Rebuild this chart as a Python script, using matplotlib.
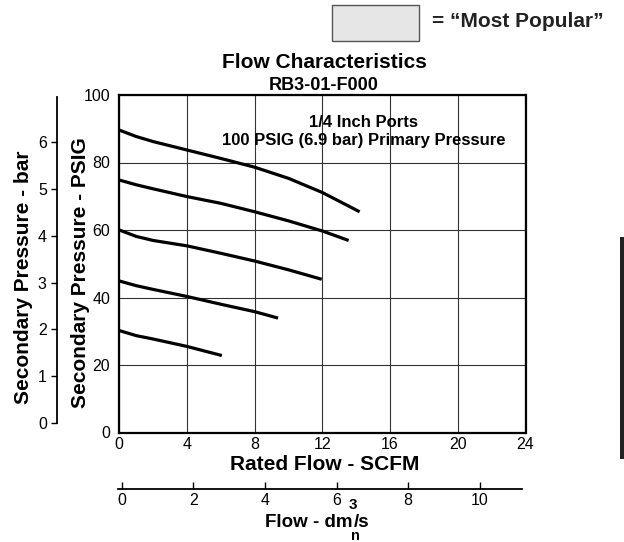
import matplotlib
matplotlib.use("Agg")
import matplotlib.pyplot as plt
from matplotlib.patches import Rectangle

plt.rcParams['font.family'] = ['Liberation Sans', 'DejaVu Sans']

# ---- data ----
scfm_1 = [0, 1, 2, 4, 6, 8, 10, 12, 14.2]
psig_1 = [89.6, 87.7, 86.2, 83.7, 81.2, 78.6, 75.3, 71.1, 65.4]
scfm_2 = [0, 1, 2, 4, 6, 8, 10, 12, 13.55]
psig_2 = [74.8, 73.4, 72.2, 69.9, 67.9, 65.4, 62.7, 59.7, 56.9]
scfm_3 = [0, 1, 2, 4, 6, 8, 10, 11.96]
psig_3 = [60.0, 58.1, 56.9, 55.3, 53.1, 50.8, 48.2, 45.4]
scfm_4 = [0, 1, 2, 4, 6, 8, 9.38]
psig_4 = [44.9, 43.5, 42.4, 40.3, 38.0, 35.8, 33.9]
scfm_5 = [0, 1, 2, 4, 6.06]
psig_5 = [30.2, 28.7, 27.7, 25.5, 22.8]
curves = [(scfm_1, psig_1), (scfm_2, psig_2), (scfm_3, psig_3),
          (scfm_4, psig_4), (scfm_5, psig_5)]

scfm_ticks = [0, 4, 8, 12, 16, 20, 24]
psig_ticks = [0, 20, 40, 60, 80, 100]
bar_ticks = [0, 1, 2, 3, 4, 5, 6]
dm3_ticks = [0, 2, 4, 6, 8, 10]

W, H = 624, 542
fig = plt.figure(figsize=(W / 100, H / 100), dpi=100)


def fx(px):
    return px / W


def fy(py):
    return (H - py) / H


# ---- main axes ----
ax = fig.add_axes([fx(119.3), fy(432.5), fx(525.5) - fx(119.3), fy(95) - fy(432.5)])
for xs, ys in curves:
    ax.plot(xs, ys, color='black', lw=2.3, solid_capstyle='butt', solid_joinstyle='round')
ax.set_xlim(0, 24)
ax.set_ylim(0, 100)
ax.set_xticks(scfm_ticks)
ax.set_yticks(psig_ticks)
ax.grid(True, color='#333333', lw=0.8)
ax.set_axisbelow(True)
for s in ax.spines.values():
    s.set_linewidth(1.6)
    s.set_color('black')
ax.tick_params(axis='x', length=0, pad=3.5, labelsize=11.5)
ax.tick_params(axis='y', length=0, pad=6.5, labelsize=11.5)
ax.text(14.44, 90.5, '1/4 Inch Ports', ha='center', va='baseline',
        fontsize=12, fontweight='bold')
ax.text(14.44, 85.2, '100 PSIG (6.9 bar) Primary Pressure', ha='center',
        va='baseline', fontsize=12, fontweight='bold')

# ---- bar axis ----
axb = fig.add_axes([fx(56.5), fy(423.3), 0.01, fy(96.7) - fy(423.3)])
axb.set_facecolor('none')
axb.set_ylim(0, 6.96)
axb.set_yticks(bar_ticks)
axb.set_xticks([])
for k in ['top', 'right', 'bottom']:
    axb.spines[k].set_visible(False)
axb.spines['left'].set_linewidth(1.3)
axb.tick_params(axis='y', direction='out', length=4.5, width=1, pad=2.5, labelsize=11.5)

# ---- dm3/s axis ----
axd = fig.add_axes([fx(118.3), fy(489), fx(521.7) - fx(118.3), 0.01])
axd.set_facecolor('none')
axd.set_xlim(-0.095, 11.17)
axd.set_xticks(dm3_ticks)
axd.set_yticks([])
for k in ['top', 'right', 'left']:
    axd.spines[k].set_visible(False)
axd.spines['bottom'].set_linewidth(1.3)
axd.tick_params(axis='x', direction='in', length=5, width=1, pad=3, labelsize=11.5)

# ---- labels ----
fig.text(fx(24), fy(277), 'Secondary Pressure - bar', rotation=90, ha='center',
         va='center', fontsize=15, fontweight='bold')
fig.text(fx(81), fy(273), 'Secondary Pressure - PSIG', rotation=90, ha='center',
         va='center', fontsize=15, fontweight='bold')
fig.text(fx(324), fy(68), 'Flow Characteristics', ha='center', va='baseline',
         fontsize=15, fontweight='bold')
fig.text(fx(324), fy(90), 'RB3-01-F000', ha='center', va='baseline',
         fontsize=13, fontweight='bold')
fig.text(fx(325), fy(470), 'Rated Flow - SCFM', ha='center', va='baseline',
         fontsize=15, fontweight='bold')
fig.text(fx(265), fy(526.7), 'Flow - dm', ha='left', va='baseline',
         fontsize=13.5, fontweight='bold')
fig.text(fx(349), fy(509), '3', ha='left', va='baseline', fontsize=11, fontweight='bold')
fig.text(fx(350.5), fy(539.5), 'n', ha='left', va='baseline', fontsize=10.5, fontweight='bold')
fig.text(fx(354), fy(526.7), '/s', ha='left', va='baseline', fontsize=13.5, fontweight='bold')

# ---- "most popular" legend ----
fig.patches.append(Rectangle((fx(331.5), fy(40.5)), fx(419) - fx(331.5), fy(5) - fy(40.5),
                             transform=fig.transFigure, facecolor='#e6e6e6',
                             edgecolor='#555555', lw=1))
fig.text(fx(432), fy(27.3), '= \u201cMost Popular\u201d', ha='left', va='baseline',
         fontsize=15, fontweight='bold', color='#222222')

# ---- right-side bar ----
fig.patches.append(Rectangle((fx(620), fy(459)), fx(4), fy(237) - fy(459),
                             transform=fig.transFigure, facecolor='#222222',
                             edgecolor='none'))

fig.savefig('out.png', dpi=100)
